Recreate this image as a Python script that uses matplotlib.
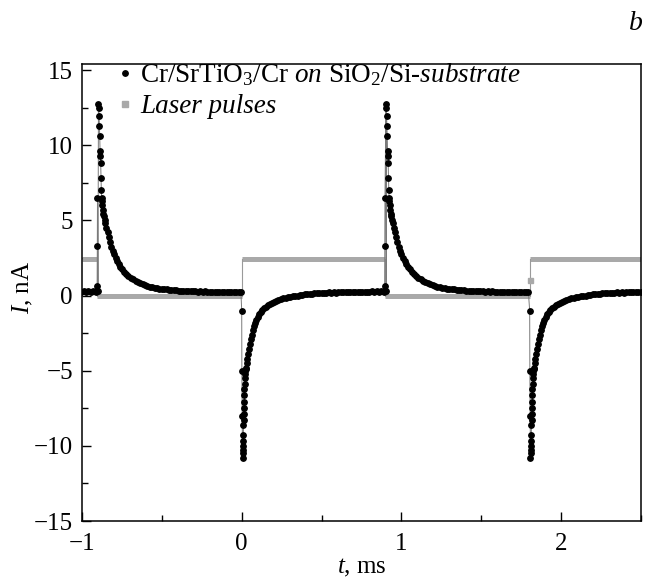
import numpy as np
import matplotlib
matplotlib.use("Agg")
import matplotlib.pyplot as plt
from matplotlib.lines import Line2D

plt.rcParams['font.family'] = ['Liberation Serif', 'DejaVu Serif']
plt.rcParams['mathtext.fontset'] = 'custom'
plt.rcParams['mathtext.rm'] = 'Liberation Serif'
plt.rcParams['mathtext.it'] = 'Liberation Serif:italic'
plt.rcParams['mathtext.bf'] = 'Liberation Serif:bold'

# ---------------- data ----------------
# response to the laser switching ON -> OFF edge (positive spike), offsets in ms
pos_offset = [0.000, 0.001, 0.002, 0.008, 0.010, 0.012, 0.014, 0.016, 0.018, 0.020,
              0.022, 0.024, 0.026, 0.028, 0.030, 0.032, 0.034, 0.037,
              0.040, 0.046, 0.052, 0.058, 0.065, 0.072, 0.080, 0.088, 0.096, 0.105,
              0.115, 0.125, 0.135, 0.146, 0.158, 0.170, 0.183, 0.196, 0.210, 0.225,
              0.240, 0.255, 0.270, 0.285, 0.300, 0.315, 0.330, 0.345, 0.360, 0.375,
              0.390, 0.405, 0.420, 0.435, 0.450, 0.465, 0.480, 0.495, 0.510, 0.525,
              0.540, 0.555, 0.570, 0.585, 0.600, 0.615, 0.630, 0.645, 0.660, 0.675,
              0.690, 0.705, 0.720, 0.735, 0.750, 0.765, 0.780, 0.795, 0.810, 0.825,
              0.840, 0.855, 0.870, 0.885, 0.900]
pos_current = [0.64, 3.3, 6.5, 12.75, 12.45, 11.97, 11.3, 10.6, 9.64, 9.26,
               8.79, 7.84, 6.99, 6.46, 6.29, 6.04, 5.7, 5.4,
               5.3, 5.05, 4.8, 4.5, 4.2, 3.9, 3.55, 3.25, 2.98, 2.74,
               2.5, 2.3, 2.1, 1.92, 1.74, 1.58, 1.44, 1.31, 1.19, 1.08,
               0.98, 0.89, 0.81, 0.74, 0.68, 0.63, 0.58, 0.55, 0.51, 0.49,
               0.45, 0.44, 0.41, 0.40, 0.37, 0.37, 0.34, 0.34, 0.32, 0.32,
               0.30, 0.31, 0.29, 0.29, 0.27, 0.29, 0.26, 0.27, 0.25, 0.27,
               0.24, 0.26, 0.24, 0.25, 0.23, 0.25, 0.23, 0.24, 0.22, 0.24,
               0.22, 0.23, 0.21, 0.22, 0.21]

# response to the laser switching OFF -> ON edge (negative spike), offsets in ms
neg_offset = [0.000, 0.001, 0.003, 0.005, 0.006, 0.007, 0.008, 0.009, 0.010, 0.011,
              0.012, 0.013, 0.014, 0.015, 0.016, 0.017, 0.018, 0.019, 0.020, 0.022,
              0.025, 0.028, 0.032, 0.036, 0.040, 0.045, 0.050, 0.056, 0.062, 0.069,
              0.076, 0.084, 0.092, 0.100, 0.110, 0.120, 0.130, 0.141, 0.152, 0.164,
              0.176, 0.189, 0.202, 0.216, 0.230, 0.245, 0.260, 0.275, 0.290, 0.305,
              0.320, 0.335, 0.350, 0.365, 0.380, 0.395, 0.410, 0.425, 0.440, 0.455,
              0.470, 0.485, 0.500, 0.515, 0.530, 0.545, 0.560, 0.575, 0.590, 0.605,
              0.620, 0.635, 0.650, 0.665, 0.680, 0.695, 0.710, 0.725, 0.740, 0.755,
              0.770, 0.785, 0.800, 0.815, 0.830, 0.845, 0.860, 0.875, 0.890, 0.905]
neg_current = [-1.0, -5.03, -8.0, -10.8, -10.5, -10.3, -10.0, -9.65, -9.3, -8.6,
               -8.3, -7.9, -7.5, -7.1, -6.65, -6.2, -5.9, -5.5, -5.2, -5.0,
               -4.9, -4.8, -4.5, -4.2, -3.9, -3.55, -3.25, -2.9, -2.6, -2.3,
               -2.05, -1.82, -1.6, -1.42, -1.24, -1.08, -0.95, -0.84, -0.74, -0.64,
               -0.56, -0.48, -0.41, -0.35, -0.29, -0.24, -0.19, -0.15, -0.11, -0.08,
               -0.05, -0.02, 0.0, 0.03, 0.04, 0.07, 0.08, 0.11, 0.11, 0.14,
               0.14, 0.17, 0.16, 0.19, 0.18, 0.21, 0.19, 0.22, 0.20, 0.23,
               0.21, 0.24, 0.22, 0.24, 0.22, 0.25, 0.23, 0.25, 0.23, 0.26,
               0.24, 0.26, 0.24, 0.27, 0.25, 0.27, 0.25, 0.27, 0.26, 0.27]

pos_edges = [-0.905, 0.895]          # ms, laser switched off
neg_edges = [-1.805, 0.000, 1.803]   # ms, laser switched on

laser_high = 2.45
laser_low = 0.0
laser_mid_point = (1.803, 1.0)

xlim = (-1.0, 2.5)
ylim = (-15.0, 15.4)
xticks = [-1, 0, 1, 2]
yticks = [-15, -10, -5, 0, 5, 10, 15]

legend_labels = [r'Cr/SrTiO$_3$/Cr $\mathit{on}$ SiO$_2$/Si-$\mathit{substrate}$',
                 'Laser pulses']

# ---------------- figure ----------------
fig = plt.figure(figsize=(6.47, 5.81), dpi=100)
ax = fig.add_axes([82/647, 1-521/581, 559/647, 457/581])

gray = '#a9a9a9'
# laser pulse trace (grey thick steps, thin vertical transitions)
all_edges = sorted(pos_edges + neg_edges)
bounds = [xlim[0]] + [e for e in all_edges if xlim[0] < e < xlim[1]] + [xlim[1]]
for a, b in zip(bounds[:-1], bounds[1:]):
    mid = 0.5 * (a + b)
    last = max([e for e in all_edges if e <= mid])
    level = laser_high if last in neg_edges else laser_low
    ax.plot([a, b], [level, level], color=gray, lw=3.6, solid_capstyle='butt', zorder=2)
for e in all_edges:
    if xlim[0] < e < xlim[1]:
        ax.plot([e, e], [laser_low, laser_high], color='#9a9a9a', lw=0.8, zorder=2)
ax.plot([laser_mid_point[0]], [laser_mid_point[1]], marker='s', ms=3.6, color=gray,
        ls='none', zorder=2)

# current trace
tt = []
ii = []
events = sorted([(e, 'p') for e in pos_edges] + [(e, 'n') for e in neg_edges])
for e, kind in events:
    off, cur = (pos_offset, pos_current) if kind == 'p' else (neg_offset, neg_current)
    tt.extend([e + o for o in off])
    ii.extend(cur)
tt = np.array(tt)
ii = np.array(ii)
order = np.argsort(tt, kind='stable')
tt, ii = tt[order], ii[order]
ax.plot(tt, ii, color='#7a7a7a', lw=0.7, zorder=3)
ax.plot(tt, ii, ls='none', marker='o', ms=3.9, color='black', zorder=4)

ax.set_xlim(*xlim)
ax.set_ylim(*ylim)
ax.set_xticks(xticks)
ax.set_yticks(yticks)
ax.set_xticks(np.arange(-1, 2.51, 0.5), minor=True)
ax.set_yticks(np.arange(-15, 15.1, 2.5), minor=True)
ax.tick_params(which='both', direction='in', labelsize=18, width=1.0, top=False, right=False)
ax.tick_params(which='major', length=6.5)
ax.tick_params(which='minor', length=4.3)
ax.tick_params(axis='x', which='major', pad=9)
ax.tick_params(axis='y', which='major', pad=6.5)
for s in ax.spines.values():
    s.set_linewidth(1.1)

ax.set_xlabel(r'$t$, ms', fontsize=18, labelpad=1)
ax.set_ylabel(r'$I$, nA', fontsize=18)
ax.yaxis.set_label_coords(-0.084, 0.512)

handles = [Line2D([], [], ls='none', marker='o', ms=3.9, color='black'),
           Line2D([], [], ls='none', marker='s', ms=4.2, color=gray)]
leg = ax.legend(handles, legend_labels, loc='upper left', bbox_to_anchor=(0.061, 1.006),
                frameon=False, fontsize=19.5, handlelength=0.65, handletextpad=0.25,
                borderpad=0, borderaxespad=0, labelspacing=0.22)
leg.get_texts()[1].set_fontstyle('italic')

fig.text(636/647, 1-23/581, 'b', fontsize=20, fontstyle='italic', ha='center', va='center')

fig.savefig('out.png', dpi=100)
